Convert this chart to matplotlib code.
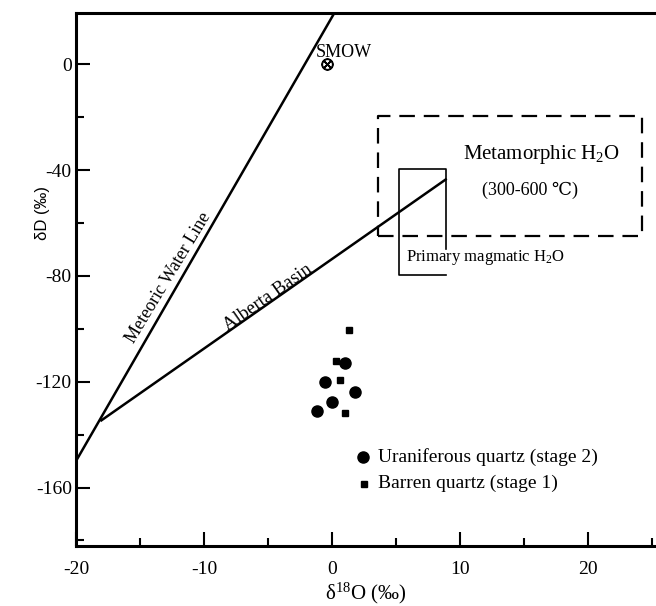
import numpy as np
import matplotlib
matplotlib.use('Agg')
import matplotlib.pyplot as plt
from matplotlib.ticker import MultipleLocator

plt.rcParams['font.family'] = ['Liberation Serif', 'DejaVu Serif']
plt.rcParams['mathtext.fontset'] = 'custom'
plt.rcParams['mathtext.rm'] = 'Liberation Serif'
plt.rcParams['mathtext.it'] = 'Liberation Serif:italic'
plt.rcParams['axes.unicode_minus'] = False

# ---------------- data ----------------
# meteoric water line and Alberta Basin line (d18O, dD)
mwl_x = [-20.0, 0.25]
mwl_y = [-150.0, 20.0]
alb_x = [-18.1, 8.95]
alb_y = [-134.9, -43.3]

smow = (-0.4, 0.0)

# uraniferous quartz (stage 2)
ura_x = [1.02, -0.57, 1.77, -0.02, -1.2]
ura_y = [-113.0, -120.0, -124.0, -127.5, -131.1]
# barren quartz (stage 1)
bar_x = [1.35, 0.31, 0.65, 0.99]
bar_y = [-100.3, -112.0, -119.2, -131.9]

# metamorphic water field (dashed box)
meta_x = [3.6, 24.2]
meta_y = [-65.0, -19.6]
# primary magmatic water field
mag_x = [5.26, 8.88]
mag_y = [-79.6, -39.5]
mag_gap_y = -69.9   # right side stops here for the label

# ---------------- plotting ----------------
fig = plt.figure(figsize=(6.56, 6.06), dpi=100)
ax = fig.add_axes([76/656, 1-545.7/606, (656-76)/656, (545.7-12.7)/606])

ax.plot(mwl_x, mwl_y, color='k', lw=1.8, solid_capstyle='butt')
ax.plot(alb_x, alb_y, color='k', lw=1.8, solid_capstyle='butt')

# metamorphic box
ax.plot([meta_x[0], meta_x[1], meta_x[1], meta_x[0], meta_x[0]],
        [meta_y[0], meta_y[0], meta_y[1], meta_y[1], meta_y[0]],
        color='k', lw=1.6, dashes=(7, 4))
# primary magmatic box (right side broken)
ax.plot([mag_x[1], mag_x[1], mag_x[0], mag_x[0], mag_x[1]],
        [mag_gap_y, mag_y[1], mag_y[1], mag_y[0], mag_y[0]],
        color='k', lw=1.2)

ax.plot(smow[0], smow[1], marker='$\\otimes$', color='k', ms=8, ls='none')
ax.text(smow[0] - 0.9, smow[1] + 4.5, 'SMOW', fontsize=13, ha='left', va='center')

ax.plot(ura_x, ura_y, 'o', color='k', ms=8, ls='none')
ax.plot(bar_x, bar_y, 's', color='k', ms=5, ls='none')

# legend drawn as in the figure
ax.plot(2.4, -148.3, 'o', color='k', ms=8)
ax.plot(2.5, -158.6, 's', color='k', ms=5)
ax.text(3.6, -148.3, 'Uraniferous quartz (stage 2)', fontsize=14, va='center')
ax.text(3.6, -158.6, 'Barren quartz (stage 1)', fontsize=14, va='center')

ax.text(10.2, -34.0, 'Metamorphic H$_2$O', fontsize=15, va='center')
ax.text(11.7, -47.6, '(300-600 \u2103)', fontsize=13, va='center',
        family=['Liberation Serif', 'DejaVu Serif'])
ax.text(5.8, -73.0, 'Primary magmatic H$_2$O', fontsize=12, va='center')

ax.text(-12.8, -80.7, 'Meteoric Water Line', fontsize=13, rotation=59,
        ha='center', va='center', rotation_mode='anchor')
ax.text(-5.0, -88.3, 'Alberta Basin', fontsize=13.5, rotation=35,
        ha='center', va='center', rotation_mode='anchor')

ax.set_xlim(-20, 25.3)
ax.set_ylim(-182, 19.5)
ax.set_xticks([-20, -10, 0, 10, 20])
ax.set_yticks([-160, -120, -80, -40, 0])
ax.xaxis.set_minor_locator(MultipleLocator(5))
ax.yaxis.set_minor_locator(MultipleLocator(20))
ax.tick_params(which='major', direction='in', length=10, width=1.5, labelsize=14)
ax.tick_params(which='minor', direction='in', length=6, width=1.5)
ax.tick_params(axis='x', which='major', pad=11)
ax.tick_params(axis='y', which='major', pad=3)
for s in ['left', 'bottom', 'top']:
    ax.spines[s].set_linewidth(2.2)
ax.spines['right'].set_visible(False)

ax.set_xlabel('\u03b4$^{18}$O (\u2030)', fontsize=15, labelpad=2)
ax.set_ylabel('\u03b4D (\u2030)', fontsize=12, family='Liberation Sans')
ax.yaxis.set_label_coords(-0.045, 0.624)

fig.savefig('out.png', dpi=100)
